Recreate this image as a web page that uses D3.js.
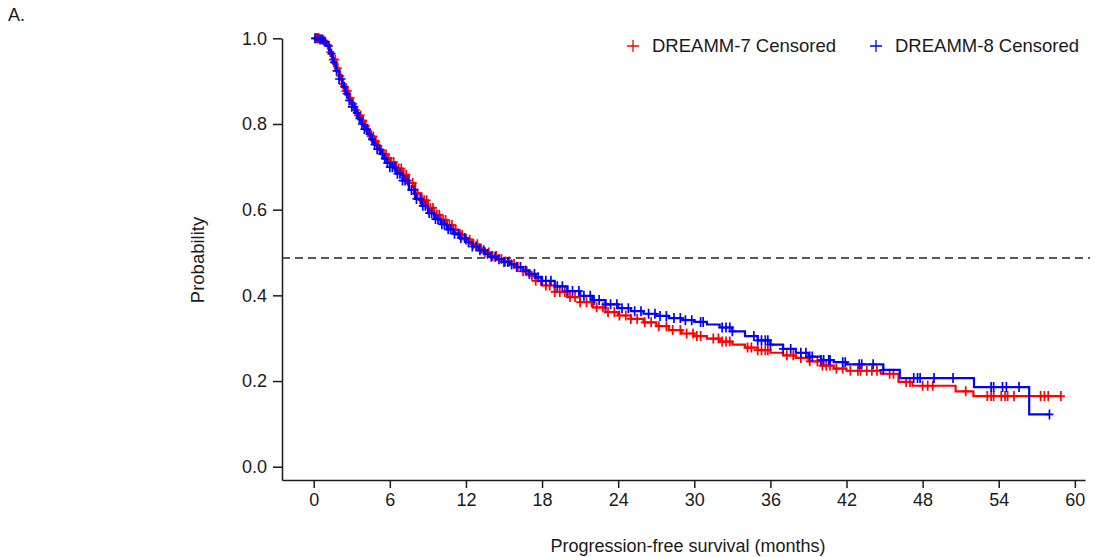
<!DOCTYPE html>
<html>
<head>
<meta charset="utf-8">
<script src="https://cdn.jsdelivr.net/npm/d3@7"></script>
<style>
  body { margin: 0; background: #fff; }
  text { font-family: "Liberation Sans", Arial, sans-serif; fill: #1a1a1a; }
</style>
</head>
<body>
<script>
// tick labels
var monthTicks = [0, 6, 12, 18, 24, 30, 36, 42, 48, 54, 60];
var probTicks = [0, 0.2, 0.4, 0.6, 0.8, 1.0];
var medianProb = 0.487;

// DREAMM-7 step curve (months, survival probability)
var d7Time = [0, 0.25, 0.5, 0.75, 1, 1.25, 1.5, 1.75, 2, 2.25, 2.5, 2.75, 3, 3.25, 3.5, 3.75, 4, 4.25, 4.5, 4.75, 5, 5.25, 5.5, 5.75, 6,
  6.5, 7, 7.5, 8, 8.5, 9, 9.5, 10, 10.5, 11, 11.5, 12, 12.5, 13, 13.5, 14, 14.5, 15, 15.5, 16, 16.5, 17, 17.5, 18,
  19, 20, 21, 22, 23, 24, 25, 26, 27, 28, 29, 30, 31, 32, 33, 34, 35, 36, 37, 38, 39, 40, 41, 42,
  44.7, 46.1, 47.2, 50.6, 52.0, 58.9];
var d7Surv = [1, 1, 0.998, 0.994, 0.985, 0.968, 0.95, 0.93, 0.912, 0.893, 0.877, 0.861, 0.847, 0.833, 0.82, 0.808, 0.796, 0.783, 0.771, 0.76, 0.749, 0.739, 0.729, 0.72, 0.711,
  0.696, 0.681, 0.662, 0.638, 0.622, 0.604, 0.588, 0.576, 0.564, 0.553, 0.541, 0.53, 0.519, 0.509, 0.5, 0.492, 0.485, 0.479, 0.473, 0.466, 0.456, 0.446, 0.434, 0.423,
  0.408, 0.396, 0.384, 0.372, 0.361, 0.353, 0.345, 0.337, 0.328, 0.319, 0.311, 0.305, 0.299, 0.292, 0.285, 0.278, 0.272, 0.266, 0.26, 0.254, 0.246, 0.236, 0.229, 0.224,
  0.217, 0.198, 0.189, 0.176, 0.165, 0.165];
var d7Cens = [0.2, 0.4, 0.6, 0.8, 1.1, 1.3, 1.5, 1.7, 1.9, 2.1, 2.3, 2.5, 2.7, 2.9, 3.1, 3.3, 3.5, 3.7, 3.9, 4.1, 4.3, 4.5, 4.7, 4.9,
  5.1, 5.3, 5.5, 5.7, 5.9, 6.1, 6.3, 6.5, 6.7, 6.9, 7.1, 7.3, 7.5, 7.8, 8.0, 8.2, 8.5, 8.7, 8.9, 9.2, 9.4, 9.7, 9.9,
  10.2, 10.4, 10.7, 10.9, 11.2, 11.5, 11.7, 12.0, 12.3, 12.6, 12.9, 13.2, 13.5, 13.8, 14.1, 14.4, 14.8, 15.1, 15.4, 15.8,
  16.1, 16.5, 16.8, 17.2, 17.5, 17.9, 18.3, 18.6, 19.0, 19.4, 19.8, 20.2, 20.6, 21.0, 21.5, 21.9, 22.3, 22.8, 23.2, 23.7,
  24.1, 24.6, 25.0, 25.5, 26.1, 26.6, 27.2, 27.8, 28.3, 28.9, 29.4, 29.9, 30.2, 30.5, 31.5, 31.9, 32.2, 32.5, 32.8,
  34.2, 34.5, 35.0, 35.3, 35.6, 35.8, 37.3, 37.8, 38.4, 39.1, 39.7, 40.1, 40.4, 40.7, 41.2, 41.7, 42.3, 42.9, 43.1,
  43.6, 44.0, 44.4, 45.4, 45.7, 46.7, 47.0, 48.0, 48.4, 48.8, 51.4, 53.1, 53.4, 53.6, 54.2, 54.5, 54.7, 55.2,
  57.3, 57.6, 57.9, 58.9];

// DREAMM-8 step curve
var d8Time = [0, 0.25, 0.5, 0.75, 1, 1.25, 1.5, 1.75, 2, 2.25, 2.5, 2.75, 3, 3.25, 3.5, 3.75, 4, 4.25, 4.5, 4.75, 5, 5.25, 5.5, 5.75, 6,
  6.5, 7, 7.5, 8, 8.5, 9, 9.5, 10, 10.5, 11, 11.5, 12, 12.5, 13, 13.5, 14, 14.5, 15, 15.5, 16, 16.5, 17, 17.5, 18,
  19, 20, 21, 22, 23, 24, 25, 26, 27, 28, 29, 30, 31, 32, 33, 34, 35, 36, 37, 38, 39, 40, 41, 42,
  44.9, 46.2, 52.05, 56.4, 58.0];
var d8Surv = [1, 1, 0.997, 0.992, 0.982, 0.964, 0.944, 0.924, 0.905, 0.887, 0.871, 0.855, 0.84, 0.826, 0.813, 0.8, 0.788, 0.776, 0.764, 0.752, 0.741, 0.73, 0.719, 0.709, 0.699,
  0.684, 0.668, 0.646, 0.625, 0.609, 0.592, 0.578, 0.566, 0.554, 0.544, 0.534, 0.524, 0.514, 0.505, 0.497, 0.49, 0.484, 0.478, 0.472, 0.466, 0.458, 0.45, 0.442, 0.434,
  0.421, 0.41, 0.399, 0.389, 0.379, 0.37, 0.363, 0.357, 0.352, 0.347, 0.342, 0.338, 0.332, 0.325, 0.316, 0.305, 0.295, 0.285, 0.275, 0.266, 0.257, 0.249, 0.244, 0.239,
  0.226, 0.207, 0.186, 0.122, 0.122];
var d8Cens = [0.1, 0.3, 0.5, 0.7, 0.9, 1.2, 1.4, 1.6, 1.8, 2.0, 2.2, 2.4, 2.6, 2.8, 3.0, 3.2, 3.4, 3.6, 3.8, 4.0, 4.2, 4.4, 4.6, 4.8,
  5.0, 5.2, 5.4, 5.6, 5.8, 6.0, 6.2, 6.4, 6.6, 6.8, 7.0, 7.2, 7.4, 7.7, 7.9, 8.1, 8.4, 8.6, 8.8, 9.1, 9.3, 9.6, 9.8,
  10.1, 10.3, 10.6, 10.8, 11.1, 11.4, 11.6, 11.9, 12.2, 12.5, 12.8, 13.1, 13.4, 13.7, 14.0, 14.3, 14.6, 15.0, 15.3, 15.6,
  16.0, 16.3, 16.7, 17.0, 17.4, 17.7, 18.0, 18.3, 18.7, 19.2, 19.6, 20.0, 20.4, 20.9, 21.3, 21.8, 22.1, 22.5, 23.0, 23.4,
  23.9, 24.3, 24.8, 25.3, 25.8, 26.4, 26.9, 27.3, 27.8, 28.4, 28.9, 29.3, 29.8, 30.5, 30.7, 32.2, 32.5, 32.8, 33.0,
  34.7, 35.0, 35.3, 35.6, 35.8, 36.0, 37.0, 37.6, 38.4, 38.8, 39.1, 39.3, 40.0, 40.2, 40.6, 40.7, 41.7, 41.9,
  43.0, 43.2, 44.1, 44.9, 47.3, 47.6, 47.8, 48.9, 50.4, 53.4, 53.6, 54.3, 54.6, 55.6, 58.0];

var seriesNames = ["DREAMM-7 Censored", "DREAMM-8 Censored"];
var seriesColors = ["#ff0000", "#0000ff"];

var svg = d3.select("body").append("svg").attr("width", 1097).attr("height", 557);

// scales
var x = d3.scaleLinear().domain([-2.5, 60.8]).range([282, 1085]);
var y = d3.scaleLinear().domain([-0.031, 1]).range([480, 38.3]);

// panel letter
svg.append("text").attr("x", 8).attr("y", 21).attr("font-size", 18).text("A.");

// axes
var yAxis = d3.axisLeft(y).tickValues(probTicks).tickFormat(d3.format(".1f")).tickSize(9).tickSizeOuter(0).tickPadding(6);
var gy = svg.append("g").attr("transform", "translate(282,0)").call(yAxis);
var xAxis = d3.axisBottom(x).tickValues(monthTicks).tickSize(8).tickSizeOuter(0).tickPadding(5);
var gx = svg.append("g").attr("transform", "translate(0,480)").call(xAxis);
[gx, gy].forEach(function (g) {
  g.selectAll("path, line").attr("stroke", "#1a1a1a").attr("stroke-width", 1.5);
  g.selectAll("text").attr("font-size", 18).attr("font-family", "Liberation Sans, Arial, sans-serif").attr("fill", "#1a1a1a");
});

// axis titles
svg.append("text").attr("x", 688).attr("y", 552).attr("text-anchor", "middle").attr("font-size", 18)
  .text("Progression-free survival (months)");
svg.append("text").attr("transform", "translate(204,260) rotate(-90)").attr("text-anchor", "middle").attr("font-size", 18.5)
  .text("Probability");

// median reference line
svg.append("line").attr("x1", x.range()[0]).attr("x2", 1090).attr("y1", y(medianProb)).attr("y2", y(medianProb))
  .attr("stroke", "#222").attr("stroke-width", 1.5).attr("stroke-dasharray", "8,5");

// survival value at a given time (step function)
function survAt(times, surv, t) {
  var i = d3.bisectRight(times, t) - 1;
  return surv[Math.max(0, i)];
}

var line = d3.line().curve(d3.curveStepAfter).x(function (d) { return x(d[0]); }).y(function (d) { return y(d[1]); });

var allSeries = [
  { time: d7Time, surv: d7Surv, cens: d7Cens },
  { time: d8Time, surv: d8Surv, cens: d8Cens }
];

allSeries.forEach(function (s, k) {
  var pts = s.time.map(function (t, i) { return [t, s.surv[i]]; });
  var g = svg.append("g");
  g.append("path").datum(pts).attr("d", line).attr("fill", "none")
    .attr("stroke", seriesColors[k]).attr("stroke-width", 2.2);
  g.selectAll("path.cens").data(s.cens).enter().append("path").attr("class", "cens")
    .attr("d", function (t) {
      var cx = x(t), cy = y(survAt(s.time, s.surv, t));
      return "M" + (cx - 4) + "," + cy + "H" + (cx + 4) + "M" + cx + "," + (cy - 5) + "V" + (cy + 5);
    })
    .attr("stroke", seriesColors[k]).attr("stroke-width", 1.7).attr("fill", "none");
});

// legend
var legX = [633, 876];
seriesNames.forEach(function (name, k) {
  var lg = svg.append("g").attr("transform", "translate(" + legX[k] + ",46)");
  lg.append("path").attr("d", "M-6,0H6M0,-6V6").attr("stroke", seriesColors[k]).attr("stroke-width", 1.3);
  lg.append("text").attr("x", 19).attr("y", 0).attr("dy", "0.35em").attr("font-size", 18.5).text(name);
});
</script>
</body>
</html>
